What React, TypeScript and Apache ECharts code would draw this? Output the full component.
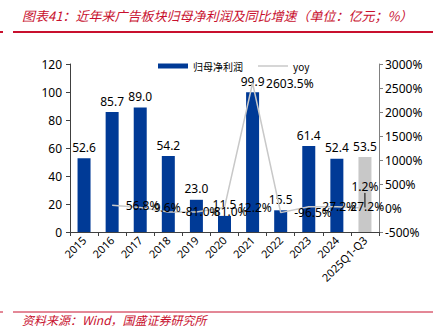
import React, { useEffect, useRef } from "react";
import * as echarts from "echarts";

const categories = ["2015", "2016", "2017", "2018", "2019", "2020", "2021", "2022", "2023", "2024", "2025Q1-Q3"];
const profitValues = [52.6, 85.7, 89.0, 54.2, 23.0, 11.5, 99.9, 15.5, 61.4, 52.4, 53.5];
const yoyValues: (number | null)[] = [null, 56.8, 9.6, -81.0, -81.0, 12.2, 2603.5, -96.5, 27.2, 27.2, 1.2];
const leftTicks = { min: 0, max: 120, interval: 20 };
const rightTicks = { min: -500, max: 3000, interval: 500 };

const titleText = "图表41：近年来广告板块归母净利润及同比增速（单位：亿元；%）";
const sourceText = "资料来源：Wind，国盛证券研究所";

export default function App() {
  const ref = useRef<HTMLDivElement>(null);
  useEffect(() => {
    if (!ref.current) return;
    const chart = echarts.init(ref.current, undefined, { renderer: "svg" });
    const red = "#C8102E";
    const font = "'Noto Sans', 'Noto Sans CJK SC', sans-serif";
    const lastIdx = categories.length - 1;
    chart.setOption({
      animation: false,
      textStyle: { fontFamily: font },
      graphic: [
        { type: "text", left: 22, top: 9, style: { text: titleText, fill: red, font: "italic 13px 'Noto Sans CJK SC'" } },
        { type: "line", shape: { x1: 0, y1: 32, x2: 3, y2: 32 }, style: { stroke: red, lineWidth: 2 } },
        { type: "line", shape: { x1: 13, y1: 32, x2: 433, y2: 32 }, style: { stroke: red, lineWidth: 2 } },
        { type: "line", shape: { x1: 0, y1: 312, x2: 3, y2: 312 }, style: { stroke: red, lineWidth: 1 } },
        { type: "line", shape: { x1: 13, y1: 312, x2: 433, y2: 312 }, style: { stroke: red, lineWidth: 1 } },
        {
          type: "text",
          style: { x: 22, y: 319, verticalAlign: "middle", text: sourceText, fill: red, font: "italic 12px 'Noto Sans CJK SC'" },
        },
      ],
      legend: {
        top: 56,
        left: 153,
        itemWidth: 30,
        itemHeight: 5,
        itemGap: 15,
        textStyle: { fontSize: 10, color: "#000", fontFamily: "'Noto Sans CJK SC', sans-serif" },
        data: [
          { name: "归母净利润", icon: "rect" },
          { name: "yoy", icon: "path://M0 0 H30 V1.5 H0 Z", itemStyle: { color: "#C8C8C8", opacity: 1 } },
        ],
      },
      grid: { left: 70, right: 67, top: 64, bottom: 95 },
      xAxis: {
        type: "category",
        data: categories,
        axisLine: { lineStyle: { color: "#404040" } },
        axisTick: { show: true, alignWithLabel: false, length: 4, lineStyle: { color: "#404040" } },
        axisLabel: { rotate: 45, fontSize: 11, color: "#000", interval: 0, margin: 6 },
      },
      yAxis: [
        {
          type: "value",
          ...leftTicks,
          splitLine: { show: false },
          axisLine: { show: true, lineStyle: { color: "#404040" } },
          axisTick: { show: true, length: 4, lineStyle: { color: "#404040" } },
          axisLabel: { fontSize: 12, color: "#000", margin: 8 },
        },
        {
          type: "value",
          ...rightTicks,
          splitLine: { show: false },
          axisLine: { show: true, lineStyle: { color: "#808080" } },
          axisTick: { show: true, length: 4, lineStyle: { color: "#808080" } },
          axisLabel: { fontSize: 12, color: "#000", margin: 6, formatter: (v: number) => v + "%" },
        },
      ],
      series: [
        {
          name: "归母净利润",
          type: "bar",
          barWidth: 13,
          itemStyle: { color: "#003A96" },
          data: profitValues.map((v, i) => ({
            value: v,
            itemStyle: { color: i === lastIdx ? "#C8C8C8" : "#003A96" },
          })),
          label: { show: true, position: "top", fontSize: 12, color: "#000", formatter: (p: any) => p.value.toFixed(1) },
        },
        {
          name: "yoy",
          type: "line",
          yAxisIndex: 1,
          symbol: "circle",
          symbolSize: 1,
          showSymbol: true,
          itemStyle: { color: "rgba(200,200,200,0)" },
          lineStyle: { color: "#C8C8C8", width: 1.5 },
          data: yoyValues.map((v, i) =>
            i === lastIdx
              ? { value: v, labelLine: { show: true, lineStyle: { color: "#000", width: 1 } } }
              : v
          ),
          label: {
            show: true,
            position: "right",
            distance: 13,
            fontSize: 12,
            color: "#000",
            formatter: (p: any) => (p.value == null ? "" : Number(p.value).toFixed(1) + "%"),
          },
          labelLayout: (params: any) =>
            params.dataIndex === lastIdx ? { dx: -27, dy: -21 } : {},
        },
      ],
    });
    return () => chart.dispose();
  }, []);
  return <div ref={ref} style={{ position: "absolute", left: 0, top: 0, width: 446, height: 327 }} />;
}
